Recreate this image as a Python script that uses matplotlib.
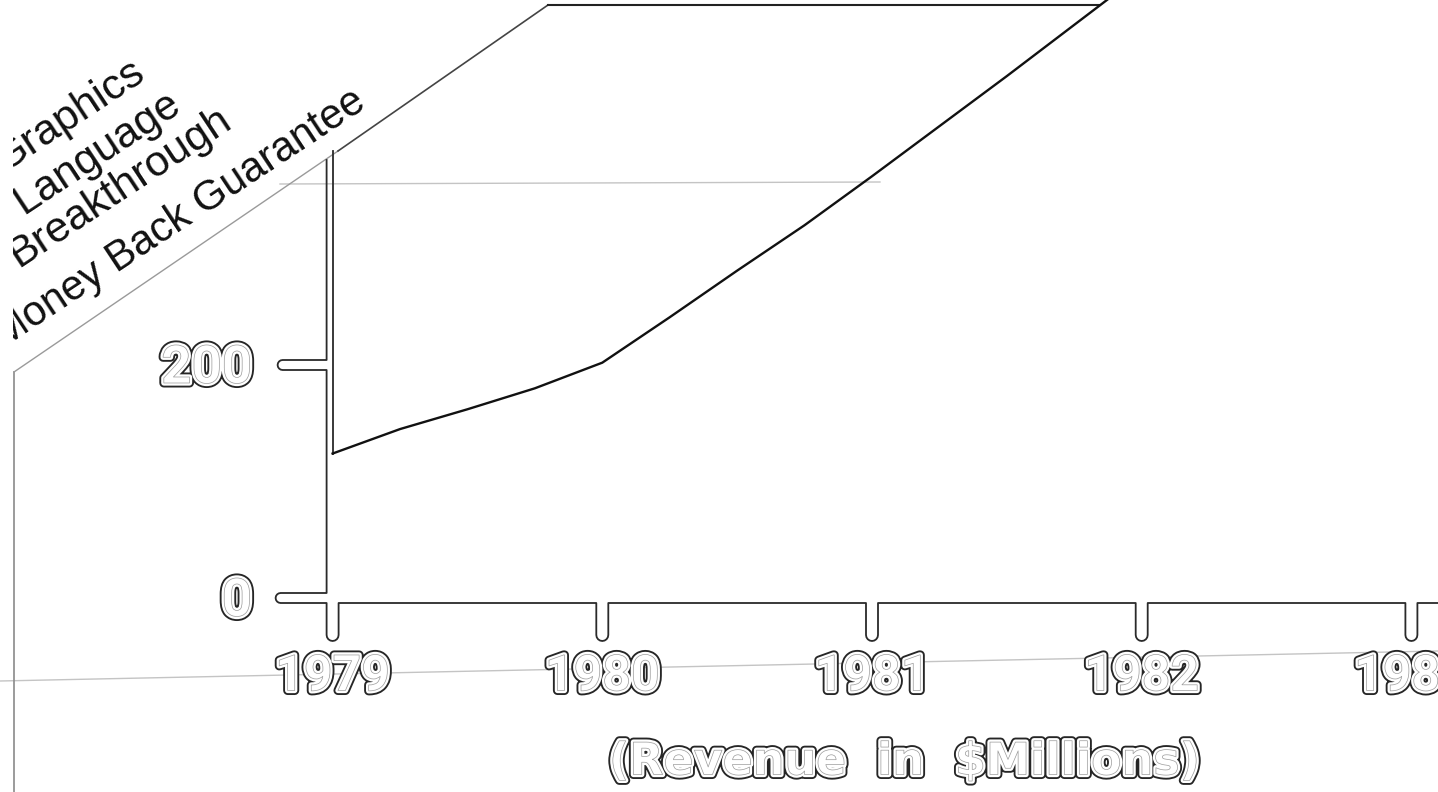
"""
Revenue chart from an old magazine ad (scan look-alike)
"""
import numpy as np
import matplotlib
matplotlib.use("Agg")
import matplotlib.pyplot as plt
import matplotlib.patheffects as pe
from matplotlib.patches import Rectangle

# Revenue ($ millions)
years = [1979.0, 1979.25, 1979.5, 1979.75, 1980.0, 1980.25, 1980.5,
         1980.75, 1981.0, 1981.25, 1981.5, 1981.75, 1982.0]
revenue = [124, 145, 162, 180, 202, 241, 281, 320, 362, 405, 448, 492, 536]

year_ticks = [1979, 1980, 1981, 1982, 1983]
year_labels = ['1979', '1980', '1981', '1982', '1983']
value_ticks = [200, 0]
value_labels = ['200', '0']
banner_lines = ['Graphics', 'Language', 'Breakthrough', 'Money Back Guarantee']
axis_title = '(Revenue  in  $Millions)'

# figure / scale setup (pixels)
W, H = 1438, 792
XPX = 269.7           # pixels per year
YPX = 1.165           # pixels per $M
X0 = 1979 - 332.6 / XPX
YT = 598 / YPX

fig = plt.figure(figsize=(W / 100, H / 100), dpi=100)
ax = fig.add_axes([0, 0, 1, 1])
ax.set_xlim(X0, X0 + W / XPX)
ax.set_ylim(YT - H / YPX, YT)
ax.axis('off')


def to_px(x, y):
    return (x - X0) * XPX, (YT - y) * YPX


def to_data(pts):
    pts = np.array(pts, dtype=float)
    return X0 + pts[:, 0] / XPX, YT - pts[:, 1] / YPX


def arc(cx, cy, r, a0, a1, n=9):
    t = np.radians(np.linspace(a0, a1, n))
    return [(cx + r * np.cos(a), cy + r * np.sin(a)) for a in t]


# axis outline with notched ticks (pixel space, y downwards)
ax_x = to_px(1979, 0)[0] - 6
ax_y = to_px(1979, 0)[1] + 5
pts = [(ax_x, 160)]
for v in value_ticks:
    yc = to_px(1979, v)[1]
    xl = ax_x - 44 if v else ax_x - 46
    pts += [(ax_x, yc - 5), (xl, yc - 5)] + arc(xl, yc, 5, 270, 90)
    if v:
        pts += [(ax_x, yc + 5)]
for yr in year_ticks:
    xc = to_px(yr, 0)[0]
    pts += [(xc - 6, ax_y), (xc - 6, ax_y + 32)] + arc(xc, ax_y + 32, 6, 180, 0) + [(xc + 6, ax_y)]
pts += [(W + 20, ax_y)]
axx, axy = to_data(pts)
ax.plot(axx, axy, color='#2a2a2a', lw=1.3, solid_joinstyle='round', zorder=3)

# scan artefacts / banner frame
def seg(p, q, **kw):
    x, y = to_data([p, q])
    ax.plot(x, y, **kw)

seg((0, 681), (W, 651), color='#c4c4c4', lw=1.0, zorder=1)
seg((280, 184), (880, 182), color='#c4c4c4', lw=1.0, zorder=1)
seg((14, 372), (14, H), color='#8a8a8a', lw=1.2, zorder=1)
seg((14, 372), (338, 151), color='#9a9a9a', lw=1.0, zorder=1)
seg((338, 151), (548, 5), color='#444444', lw=1.2, zorder=2)

# top edge of the shape runs to where the curve meets it
top_val = YT - 5 / YPX
cross = np.interp(top_val, revenue, years)
ax.plot([to_data([(548, 5)])[0][0], cross], [top_val, top_val], color='#222222', lw=1.5)

# left edge of the area and the revenue curve
edge_val = to_data([(338, 151)])[1][0]
ax.plot([years[0], years[0]], [revenue[0], edge_val], color='#2a2a2a', lw=1.3)
ax.plot(years, revenue, color='#111111', lw=1.7, zorder=4)

# bubble lettering
bubble = [pe.Stroke(linewidth=6.5, foreground='#262626'),
          pe.Stroke(linewidth=3.8, foreground='white'),
          pe.Normal(),
          pe.Stroke(linewidth=0.5, foreground='#9a9a9a')]

lab_y = YT - 677 / YPX
for yr, lab in zip(year_ticks, year_labels):
    ax.text(yr, lab_y, lab, ha='center', va='center', fontsize=36,
            family='Roboto', fontweight='bold', color='white',
            path_effects=bubble, zorder=5)

for v, lab in zip(value_ticks, value_labels):
    ax.text(X0 + 252 / XPX, v - 3, lab, ha='right', va='center', fontsize=38,
            family='Roboto', fontweight='bold', color='white',
            path_effects=bubble, zorder=5)

ax.text(X0 + 905 / XPX, YT - 762 / YPX, axis_title, ha='center', va='center',
        fontsize=32, family='DejaVu Sans', fontweight='bold', color='white',
        path_effects=bubble, zorder=5)

# rotated banner text (the ad was cut along x = 14 above the banner)
anchors = [(4, 172), (24, 214), (19, 267), (3, 348)]
sizes = [31, 31, 31, 30]
for (px, py), line, fs in zip(anchors, banner_lines, sizes):
    fig.text(px / W, 1 - py / H, line, rotation=33.5, rotation_mode='anchor',
             ha='left', va='baseline', fontsize=fs, family='Liberation Sans',
             color='#111111', zorder=3)
fig.patches.append(Rectangle((0, 1 - 372 / H), 13 / W, 372 / H,
                             transform=fig.transFigure, facecolor='white',
                             edgecolor='none', zorder=4))

plt.savefig('out.png', dpi=100, facecolor='white')
